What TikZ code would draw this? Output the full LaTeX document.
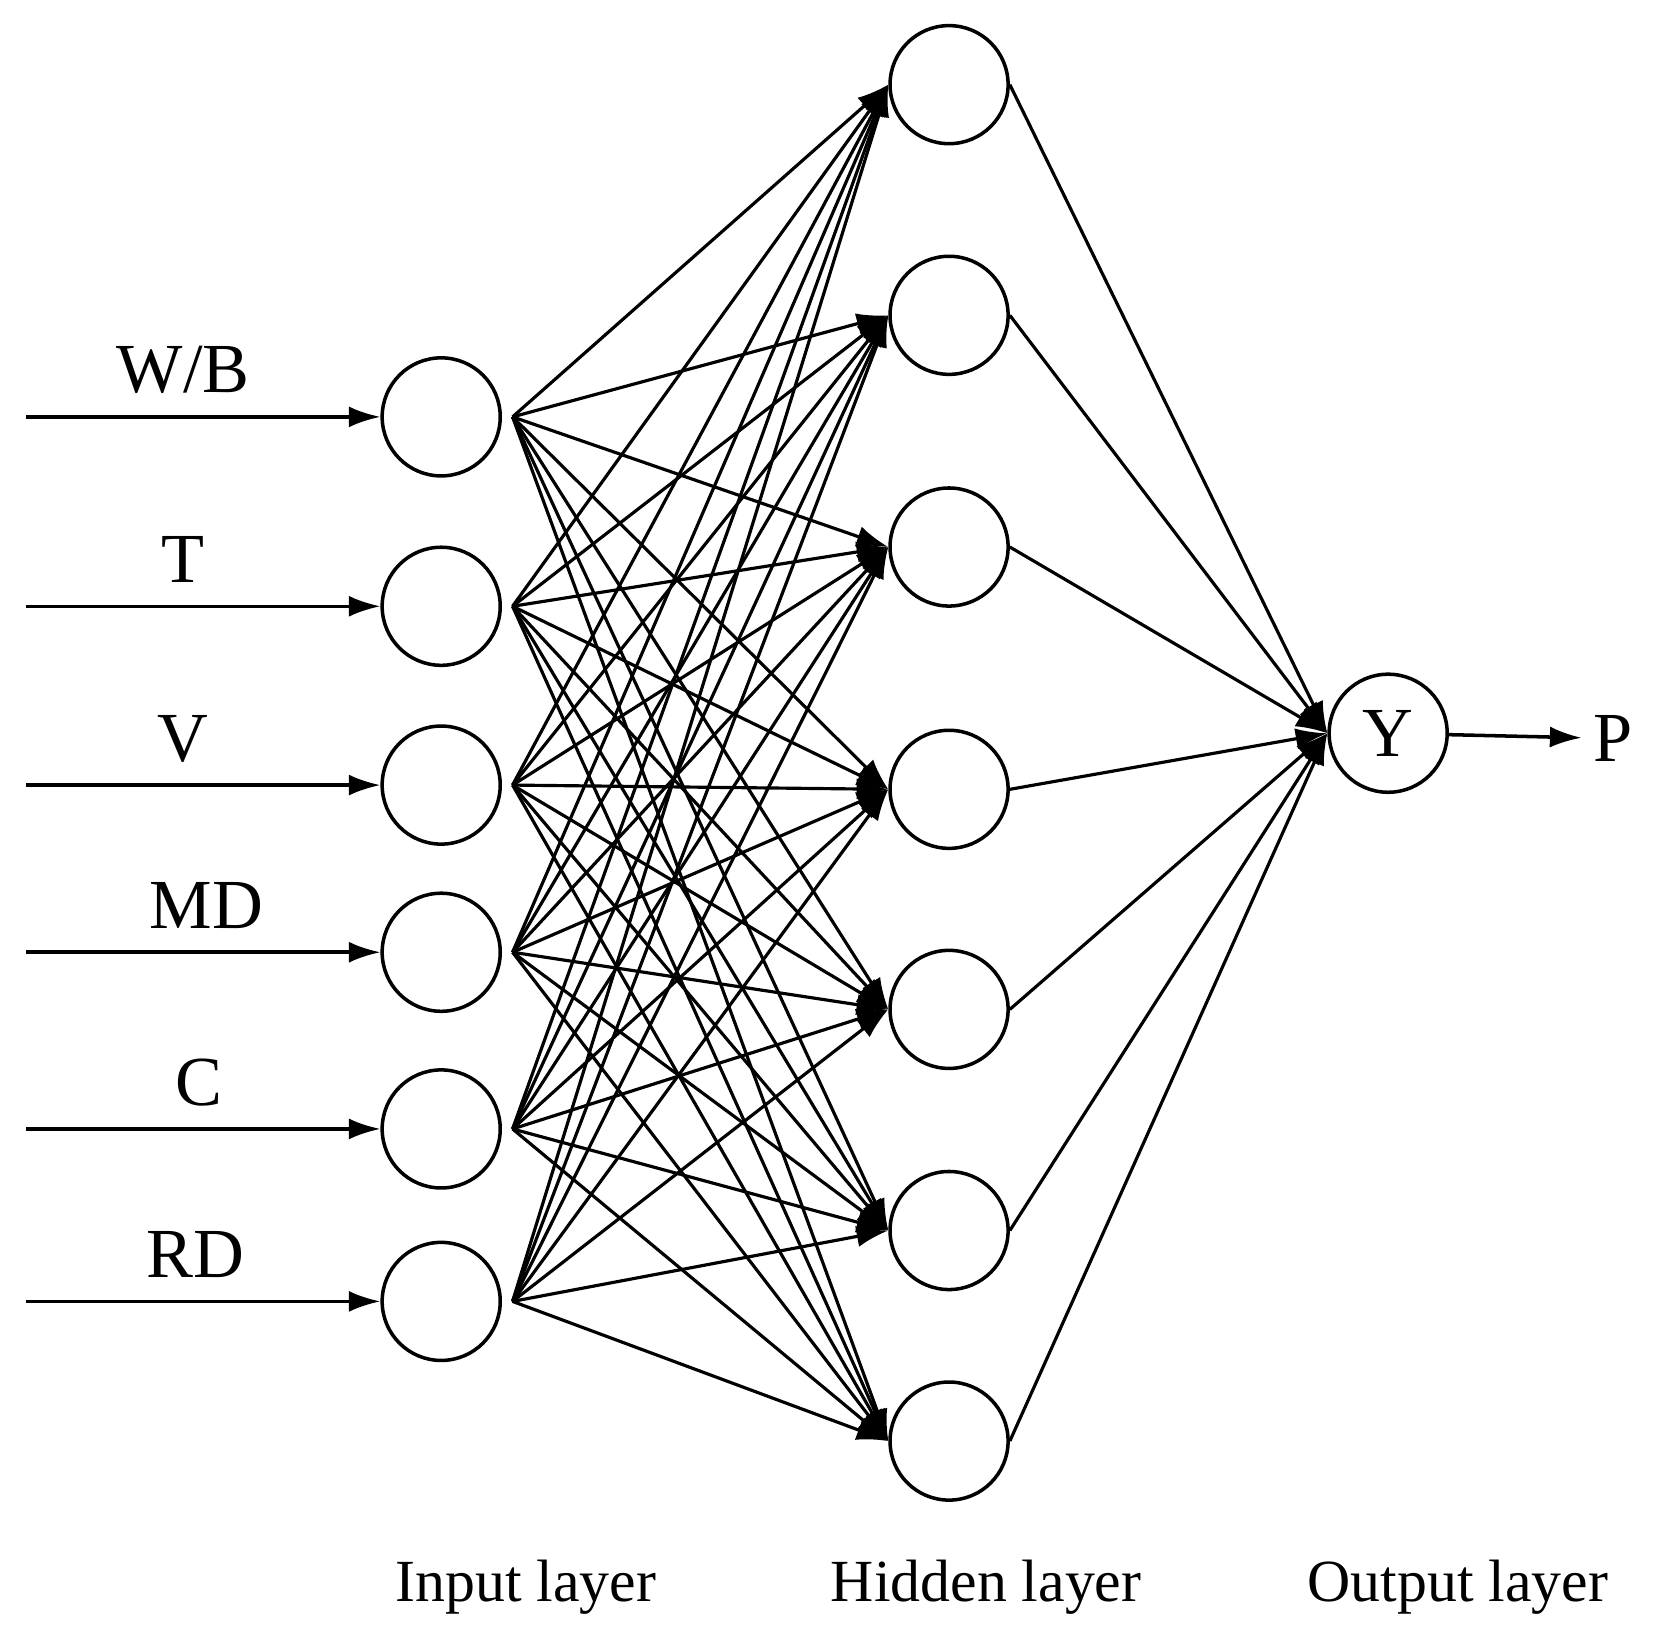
\documentclass[tikz,border=0pt]{standalone}
\usepackage{tikz}
\usepackage{fontspec}
\setmainfont{Liberation Serif}
\usetikzlibrary{arrows.meta,positioning}
\begin{document}
\begin{tikzpicture}[x=0.01058cm, y=-0.01058cm, >={Latex[length=9pt,width=6pt]},
  neuron/.style={draw, circle, line width=1pt, minimum size=1.18cm, inner sep=0pt},
  lbl/.style={font=\fontsize{20}{23}\selectfont},
  layer/.style={font=\fontsize{17}{20}\selectfont}]
        \useasboundingbox (0,0) rectangle (1568,1545);
        % Input layer
        \foreach \i/\y/\t/\tx in {1/394/W\slash B/173, 2/573/T/173, 3/742/V/173, 4/900/MD/195, 5/1067/C/188, 6/1230/RD/185} {
            \node[neuron] (in\i) at (417,\y) {};
            \coordinate (src\i) at (25,\y);
            \draw[->, line width=1pt] (src\i) -- (in\i);
            \node[lbl] at (\tx,\y-44) {\t};
        }
        % Hidden layer
        \foreach \j/\y in {1/80, 2/298, 3/517, 4/746, 5/954, 6/1163, 7/1362} {
            \node[neuron] (hid\j) at (897,\y) {};
        }
        % Output layer
        \node[neuron, lbl] (out) at (1312,693) {Y};
        \node[lbl] (p) at (1525,698) {P};
        \draw[->, line width=1pt] (out) -- (p);
        % Connections
        \foreach \i in {1,...,6}
            \foreach \j in {1,...,7}
                \draw[->, line width=0.9pt] ([xshift=3pt]in\i.east) -- (hid\j.west);
        \foreach \j in {1,...,7}
            \draw[->, line width=0.9pt] (hid\j.east) -- (out.west);
        % Layer labels
        \node[layer] at (497,1500) {Input layer};
        \node[layer] at (932,1500) {Hidden layer};
        \node[layer] at (1378,1500) {Output layer};
\end{tikzpicture}
\end{document}
